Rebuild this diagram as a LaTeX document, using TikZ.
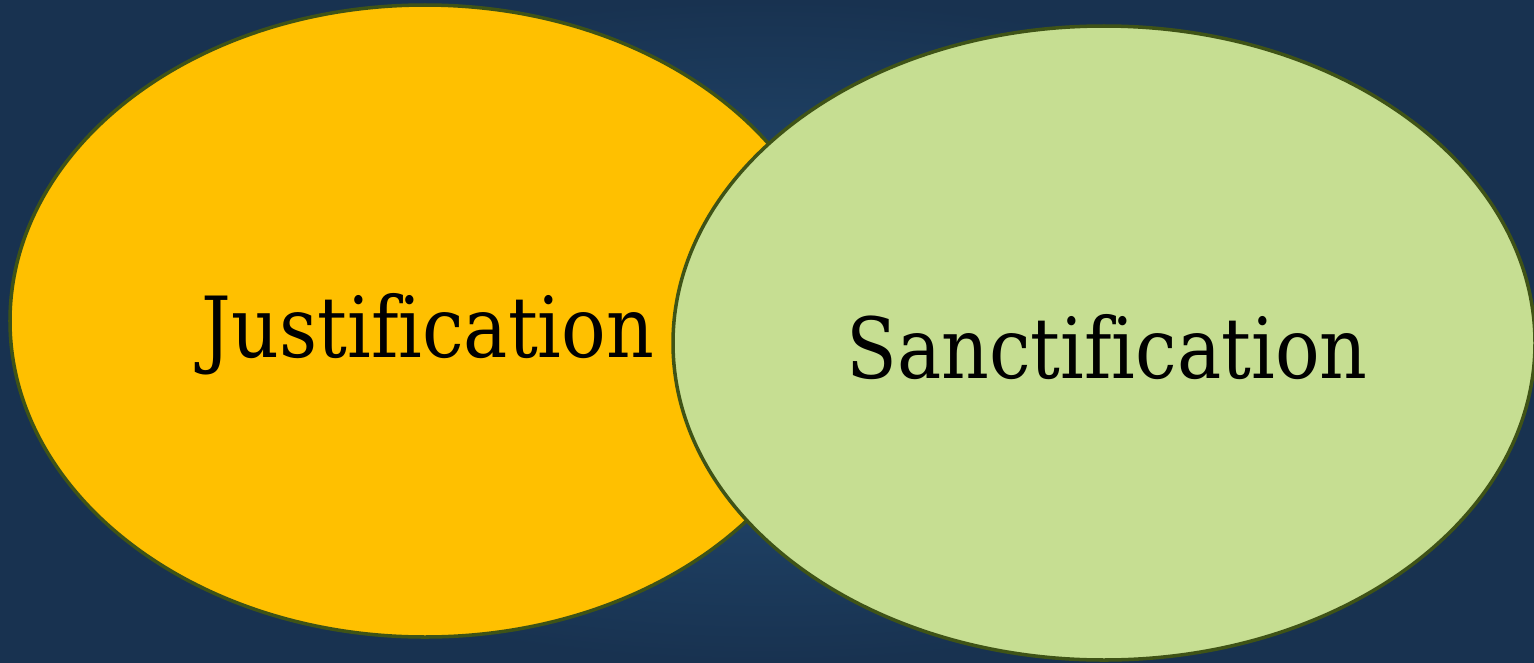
\documentclass[tikz,border=0pt]{standalone}
\usepackage{fontspec}
\setmainfont{DejaVu Serif}[Ligatures=NoCommon]
\usetikzlibrary{shapes.geometric}

\begin{document}
\begin{tikzpicture}
    \definecolor{venn_bg}{RGB}{24,50,80}
    \definecolor{venn_bgin}{RGB}{38,82,124}
    \definecolor{venn_just}{RGB}{255,192,0}
    \definecolor{venn_sanct}{RGB}{198,222,146}
    \definecolor{venn_line}{RGB}{63,83,22}
    \fill[inner color=venn_bgin,outer color=venn_bg] (0,0) rectangle (30.68,-13.24);
    \useasboundingbox (0,0) rectangle (30.68,-13.24);
    \node[shape=ellipse,draw=venn_line,line width=2pt,fill=venn_just,minimum width=16.6cm,minimum height=12.64cm]   (just)  at (8.5,-6.42) {};
    \node[shape=ellipse,draw=venn_line,line width=2pt,fill=venn_sanct,minimum width=17.24cm,minimum height=12.68cm] (sanct) at (22.08,-6.86) {};
    \node[anchor=base,xscale=0.88,transform shape,font=\fontsize{48}{58}\selectfont] (justlbl)  at (8.56,-7.14) {Justification};
    \node[anchor=base,xscale=0.88,transform shape,font=\fontsize{48}{58}\selectfont] (sanctlbl) at (22.14,-7.56) {Sanctification};
\end{tikzpicture}
\end{document}
